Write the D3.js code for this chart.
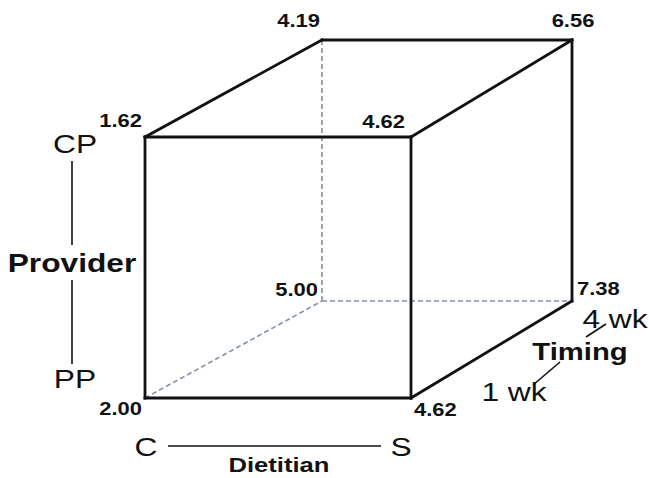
<!DOCTYPE html>
<html lang="en">
<head>
<meta charset="utf-8">
<style>
  body { margin: 0; background: white; }
  svg { font-family: 'Liberation Sans', Arial, sans-serif; }
  .edge { fill: none; stroke: #111; stroke-width: 2.8px; stroke-linecap: square; }
  .edge.hidden { stroke: #8390a6; stroke-width: 1.6px; stroke-dasharray: 5, 3; stroke-linecap: butt; }
  .corner { font-weight: bold; font-size: 18px; fill: #111; }
  .level { font-size: 26px; fill: #111; }
  .factor { font-weight: bold; fill: #111; }
  .axis-line { stroke: #111; stroke-width: 1.6px; }
</style>
</head>
<body>
<svg width="649" height="478"></svg>
<script src="https://d3js.org/d3.v7.min.js"></script>
<script>
// factor levels
const dietitian = ["C", "S"]
const provider = ["PP", "CP"]
const timing = ["1 wk", "4 wk"]

// cell means, ordered C, S
const pp1wk = [2.00, 4.62]
const cp1wk = [1.62, 4.62]
const pp4wk = [5.00, 7.38]
const cp4wk = [4.19, 6.56]

const svg = d3.select("svg")
const stretch = 1.22 // text in the original figure is widened

// place text at (x, y) with the horizontal stretch
const place = function (x, y) {
  return "translate(" + x + "," + y + ") scale(" + stretch + ",1)"
}

// front face = 1 wk, back face = 4 wk
const dScale = d3.scalePoint().domain(dietitian).range([0, 1])
const pScale = d3.scalePoint().domain(provider).range([0, 1])
const tScale = d3.scalePoint().domain(timing).range([0, 1])

const frontX = d3.scaleLinear().domain([0, 1]).range([145, 411])
const backX = d3.scaleLinear().domain([0, 1]).range([322, 572])
const frontY = d3.scaleLinear().domain([0, 1]).range([398, 137])
const backY = d3.scaleLinear().domain([0, 1]).range([301, 40])

const project = function (d, p, t) {
  const u = dScale(d), v = pScale(p), w = tScale(t)
  return [
    d3.interpolateNumber(frontX(u), backX(u))(w),
    d3.interpolateNumber(frontY(v), backY(v))(w)
  ]
}

// build corners from the data arrays
const corners = []
const tables = [[timing[0], provider[0], pp1wk], [timing[0], provider[1], cp1wk],
                [timing[1], provider[0], pp4wk], [timing[1], provider[1], cp4wk]]
tables.forEach(([t, p, vals]) => {
  dietitian.forEach((d, i) => corners.push({ d: d, p: p, t: t, value: vals[i] }))
})

// label offsets by corner (dx, dy, anchor)
const labelPos = function (c) {
  if (c.t === timing[0] && c.p === provider[0]) return c.d === "C" ? [-3, 17, "end"] : [3, 18, "start"]
  if (c.t === timing[0] && c.p === provider[1]) return c.d === "C" ? [-3, -10, "end"] : [-6, -9, "end"]
  if (c.t === timing[1] && c.p === provider[0]) return c.d === "C" ? [-4, -5, "end"] : [5, -6, "start"]
  return c.d === "C" ? [-2, -13, "end"] : [1, -13, "middle"]
}

// edges: pairs of corners differing in one factor
const edges = []
corners.forEach((a, i) => corners.forEach((b, j) => {
  if (j <= i) return
  const diff = (a.d !== b.d) + (a.p !== b.p) + (a.t !== b.t)
  if (diff === 1) {
    const hidden = [a, b].some(c => c.d === "C" && c.p === "PP" && c.t === "4 wk")
    edges.push({ a: a, b: b, hidden: hidden })
  }
}))
edges.sort((e1, e2) => e2.hidden - e1.hidden)

const line = d3.line()
svg.append("g").selectAll("path")
  .data(edges)
  .join("path")
  .attr("class", e => "edge" + (e.hidden ? " hidden" : ""))
  .attr("d", e => line([project(e.a.d, e.a.p, e.a.t), project(e.b.d, e.b.p, e.b.t)]))

svg.append("g").selectAll("text")
  .data(corners)
  .join("text")
  .attr("class", "corner")
  .attr("transform", c => {
    const pt = project(c.d, c.p, c.t), off = labelPos(c)
    return place(pt[0] + off[0], pt[1] + off[1])
  })
  .attr("text-anchor", c => labelPos(c)[2])
  .text(c => d3.format(".2f")(c.value))

// Provider axis (left)
const provX = 74
const provY = d3.scaleLinear().domain([0, 1]).range([388, 153])
const provG = svg.append("g")
provG.selectAll("text").data(provider).join("text")
  .attr("class", "level")
  .attr("transform", p => place(provX + 1, provY(pScale(p))))
  .attr("text-anchor", "middle")
  .text(p => p)
provG.append("line").attr("class", "axis-line")
  .attr("x1", provX - 2).attr("x2", provX - 2).attr("y1", 161).attr("y2", 245)
provG.append("line").attr("class", "axis-line")
  .attr("x1", provX - 2).attr("x2", provX - 2).attr("y1", 280).attr("y2", 364)
provG.append("text").attr("class", "factor")
  .attr("transform", place(provX - 2, 272))
  .attr("text-anchor", "middle")
  .style("font-size", "26px")
  .text("Provider")

// Dietitian axis (bottom)
const dietX = d3.scaleLinear().domain([0, 1]).range([146, 401])
const dietG = svg.append("g")
dietG.selectAll("text").data(dietitian).join("text")
  .attr("class", "level")
  .attr("transform", d => place(dietX(dScale(d)), 456))
  .attr("text-anchor", "middle")
  .text(d => d)
dietG.append("line").attr("class", "axis-line")
  .attr("x1", 168).attr("x2", 381).attr("y1", 446).attr("y2", 446)
dietG.append("text").attr("class", "factor")
  .attr("transform", place(279, 472))
  .attr("text-anchor", "middle")
  .style("font-size", "21px")
  .text("Dietitian")

// Timing axis (right, diagonal)
const timeX = d3.scaleLinear().domain([0, 1]).range([514, 615])
const timeY = d3.scaleLinear().domain([0, 1]).range([401, 328])
const timeG = svg.append("g")
timeG.selectAll("text").data(timing).join("text")
  .attr("class", "level")
  .attr("transform", t => place(timeX(tScale(t)), timeY(tScale(t))))
  .attr("text-anchor", "middle")
  .text(t => t)
timeG.append("line").attr("class", "axis-line")
  .attr("x1", 533).attr("y1", 385).attr("x2", 560).attr("y2", 362)
timeG.append("line").attr("class", "axis-line")
  .attr("x1", 586).attr("y1", 337).attr("x2", 606).attr("y2", 324)
timeG.append("text").attr("class", "factor")
  .attr("transform", place(580, 360))
  .attr("text-anchor", "middle")
  .style("font-size", "24px")
  .text("Timing")
</script>
</body>
</html>
